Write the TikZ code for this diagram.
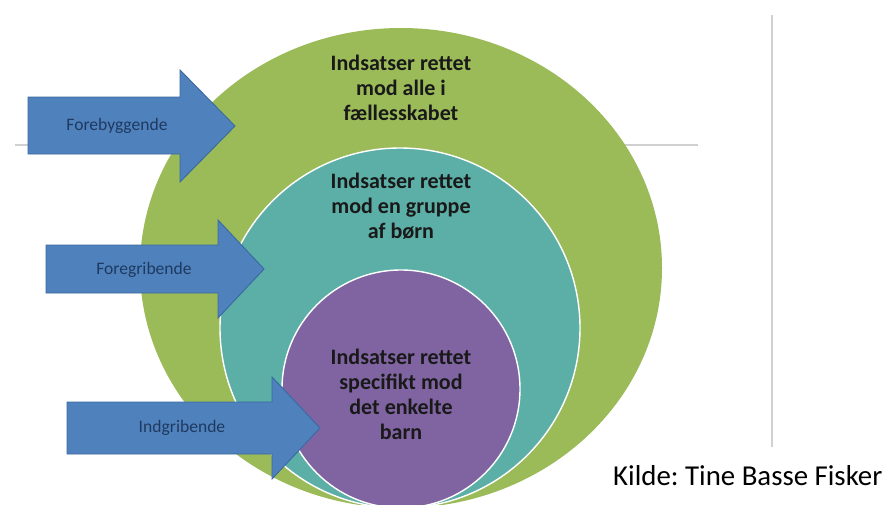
\documentclass[tikz,border=0pt]{standalone}
\usepackage{fontspec}
\setmainfont{Carlito}
\frenchspacing
\definecolor{cGreen}{HTML}{9BBB59}
\definecolor{cTeal}{HTML}{5BAFA6}
\definecolor{cPurple}{HTML}{8064A2}
\definecolor{cBlue}{HTML}{4F81BD}
\definecolor{cBlueLine}{HTML}{3A6A9F}
\definecolor{cNavy}{HTML}{1F3A60}
\definecolor{cRule}{HTML}{D0D0D0}
\tikzstyle{lvl}=[draw=white,line width=1.2pt]
\tikzstyle{arr}=[fill=cBlue,draw=cBlueLine,line width=0.8pt,line join=miter]
\tikzstyle{lvlText}=[align=center,inner sep=0pt,text=black!90,font=\bfseries\fontsize{18.8}{21.3}\selectfont]
\tikzstyle{arrText}=[inner sep=0pt,text=cNavy,font=\fontsize{15}{17}\selectfont]

\begin{document}
\begin{tikzpicture}[x=0.03cm,y=-0.03cm]
                \clip (0,0) rectangle (888,505);
                % baggrundslinjer
                \draw[cRule,line width=1.5pt] (15,145) -- (698,145);
                \draw[cRule,line width=1pt] (772,15) -- (772,447);
                % niveauer
                \fill[cGreen] (401,268) ellipse [x radius=261,y radius=240];
                \draw[lvl,fill=cTeal] (400,328) ellipse [x radius=180,y radius=180];
                \draw[lvl,fill=cPurple] (401,389) ellipse [x radius=119,y radius=119];
                \node[lvlText] (tAlle) at (401,88) {Indsatser rettet\\mod alle i\\f\ae llesskabet};
                \node[lvlText] (tGruppe) at (401,206) {Indsatser rettet\\mod en gruppe\\af b\o rn};
                \node[lvlText] (tBarn) at (401,394) {Indsatser rettet\\specifikt mod\\det enkelte\\barn};
                % pile
                \draw[arr] (28,97) -- (180,97) -- (180,70) -- (235,126) -- (180,182) -- (180,154) -- (28,154) -- cycle;
                \draw[arr] (46,245) -- (218,245) -- (218,220) -- (264,269) -- (218,318) -- (218,293) -- (46,293) -- cycle;
                \draw[arr] (67,402) -- (272,402) -- (272,377) -- (320,428) -- (272,479) -- (272,454) -- (67,454) -- cycle;
                \node[arrText] (aFore) at (117,126) {Forebyggende};
                \node[arrText] (aGrib) at (144,270) {Foregribende};
                \node[arrText] (aInd) at (182,428) {Indgribende};
                % kilde
                \node[anchor=base west,inner sep=0pt,font=\fontsize{24.6}{29}\selectfont] (kilde) at (613,485) {Kilde: Tine Basse Fisker};
        \end{tikzpicture}
\end{document}
